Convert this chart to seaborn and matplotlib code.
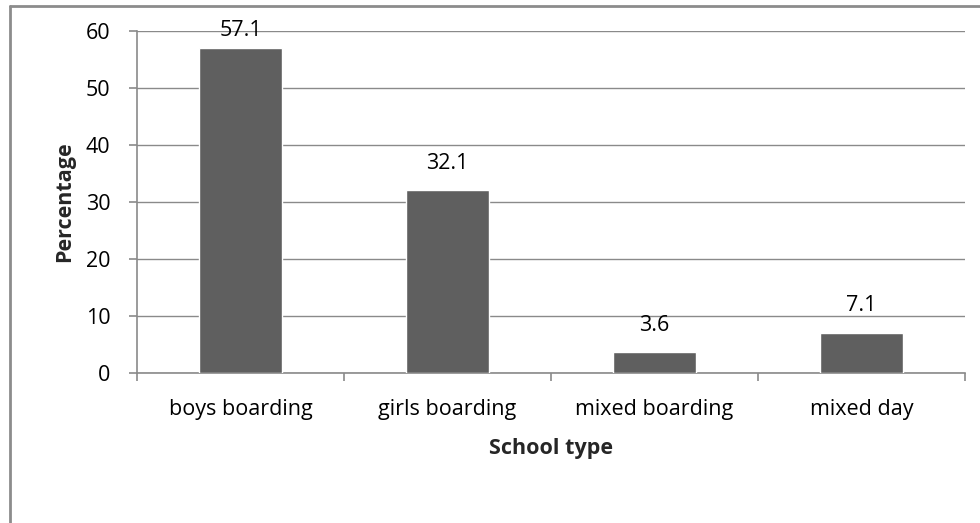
import matplotlib
matplotlib.use("Agg")
import matplotlib.pyplot as plt
from matplotlib.lines import Line2D
import seaborn as sns
import pandas as pd

school_types = ["boys boarding", "girls boarding", "mixed boarding", "mixed day"]
percentages = [57.1, 32.1, 3.6, 7.1]
y_ticks = [0, 10, 20, 30, 40, 50, 60]

sns.set_theme(style="white")
plt.rcParams["font.family"] = ["Open Sans", "DejaVu Sans"]

df = pd.DataFrame({"School type": school_types, "Percentage": percentages})

fig = plt.figure(figsize=(9.8, 5.23), dpi=100)
ax = fig.add_axes([137 / 980, 1 - 373 / 523, (965 - 137) / 980, (373 - 31) / 523])

grid_col = "#8a8a8a"
sns.barplot(data=df, x="School type", y="Percentage", color="#5f5f5f",
            saturation=1, width=0.4, ax=ax, zorder=3)

ax.set_ylim(0, 60)
ax.set_xlim(-0.5, len(school_types) - 0.5)
ax.set_yticks(y_ticks)
ax.yaxis.grid(True, color=grid_col, linewidth=1.0)
ax.set_axisbelow(True)

for side in ["top", "right"]:
    ax.spines[side].set_visible(False)
for side in ["left", "bottom"]:
    ax.spines[side].set_color(grid_col)
    ax.spines[side].set_linewidth(1.2)

fs = 15.5

# category separators on the x axis
ax.set_xticks([i - 0.5 for i in range(len(school_types) + 1)], minor=True)
ax.tick_params(axis="x", which="minor", length=6, color=grid_col, width=1.2, bottom=True)
ax.tick_params(axis="x", which="major", length=0, pad=19, labelsize=fs, labelcolor="black")
ax.tick_params(axis="y", which="major", length=6, color=grid_col, width=1.2, left=True,
               pad=13, labelsize=fs, labelcolor="black")

ax.set_xlabel("School type", fontsize=fs, fontweight="bold", labelpad=13)
ax.set_ylabel("Percentage", fontsize=fs, fontweight="bold", labelpad=8)

# value labels, kept inside the plot area at the top
for i, v in enumerate(percentages):
    ax.text(i, min(v + 4.7, 60), f"{v:.1f}", ha="center", va="center",
            fontsize=fs, color="black", zorder=4)

# chart frame
fig.add_artist(Line2D([10 / 980, 10 / 980], [0, 1 - 6 / 523], transform=fig.transFigure,
                      color="#8c8c8c", linewidth=2))
fig.add_artist(Line2D([10 / 980, 1], [1 - 6 / 523, 1 - 6 / 523], transform=fig.transFigure,
                      color="#8c8c8c", linewidth=2))

fig.savefig("out.png", dpi=100)
